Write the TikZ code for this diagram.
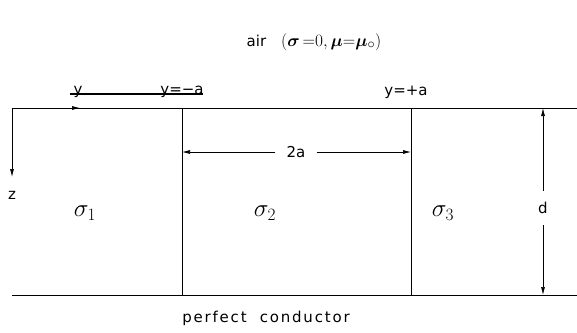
\documentclass[tikz,border=0pt]{standalone}
\usepackage{amsmath}
\usepackage{bm}
\usepackage{fontspec}
\setmainfont{DejaVu Sans}
\usetikzlibrary{arrows.meta}
\begin{document}
\begin{tikzpicture}[x=1pt,y=-1pt,
  lbl/.style={inner sep=1pt,font=\fontsize{15}{17}\selectfont},
  sig/.style={inner sep=1pt,font=\fontsize{27}{29}\selectfont},
  arr/.style={-{Latex[length=8pt,width=4pt]}},
  ln/.style={line width=0.7pt}]
\useasboundingbox (0,0) rectangle (577,332);
% corners
\coordinate (tl) at (12,108);
\coordinate (tr) at (577,108);
\coordinate (bl) at (12,295);
\coordinate (br) at (577,295);
\coordinate (t1) at (182,108);
\coordinate (b1) at (182,295);
\coordinate (t2) at (411,108);
\coordinate (b2) at (411,295);
\coordinate (zend) at (12,177);
\coordinate (yend) at (80,108);
\coordinate (dt) at (543,108);
\coordinate (db) at (543,295);
\coordinate (al) at (182,152);
\coordinate (ar) at (411,152);
% lines
\draw[ln] (tl) -- (tr);
\draw[ln] (bl) -- (br);
\draw[ln] (t1) -- (b1);
\draw[ln] (t2) -- (b2);
\draw[ln,arr] (tl) -- (zend);
\draw[ln,arr] (tl) -- (yend);
% labels
\node[lbl] (air) at (314,42) {air\quad {\fontsize{19}{21}\selectfont$(\bm{\sigma}\,{=}0,\bm{\mu}{=}\bm{\mu}_{\circ})$}};
\node[lbl] (z) at (12,195) {z};
\node[lbl] (yy) at (78,92) {y};
\node[lbl] (yma) at (182,92) {y=−a};
\path (yy.west) ++(-2,2) coordinate (s1);
\path (yma.east) ++(-2,2) coordinate (s2);
\draw[line width=1.8pt] (s1) -- (s2);
\node[lbl] (ypa) at (406,92) {y=+a};
\node[lbl] (twoa) at (296,152) {2a};
\path (twoa.west) ++(-10,0) coordinate (a1);
\path (twoa.east) ++(10,0) coordinate (a2);
\draw[ln,arr] (a1) -- (al);
\draw[ln,arr] (a2) -- (ar);
\node[lbl] (d) at (543,208) {d};
\path (d.north) ++(0,-10) coordinate (d1);
\path (d.south) ++(0,10) coordinate (d2);
\draw[ln,arr] (d1) -- (dt);
\draw[ln,arr] (d2) -- (db);
\node[sig] (s1n) at (85,213) {$\sigma_{1}$};
\node[sig] (s2n) at (265,213) {$\sigma_{2}$};
\node[sig] (s3n) at (443,213) {$\sigma_{3}$};
\node[lbl,font=\fontsize{15}{17}\selectfont\addfontfeatures{LetterSpace=12}] (pc) at (266,318) {perfect\ \ conductor};
\end{tikzpicture}
\end{document}
